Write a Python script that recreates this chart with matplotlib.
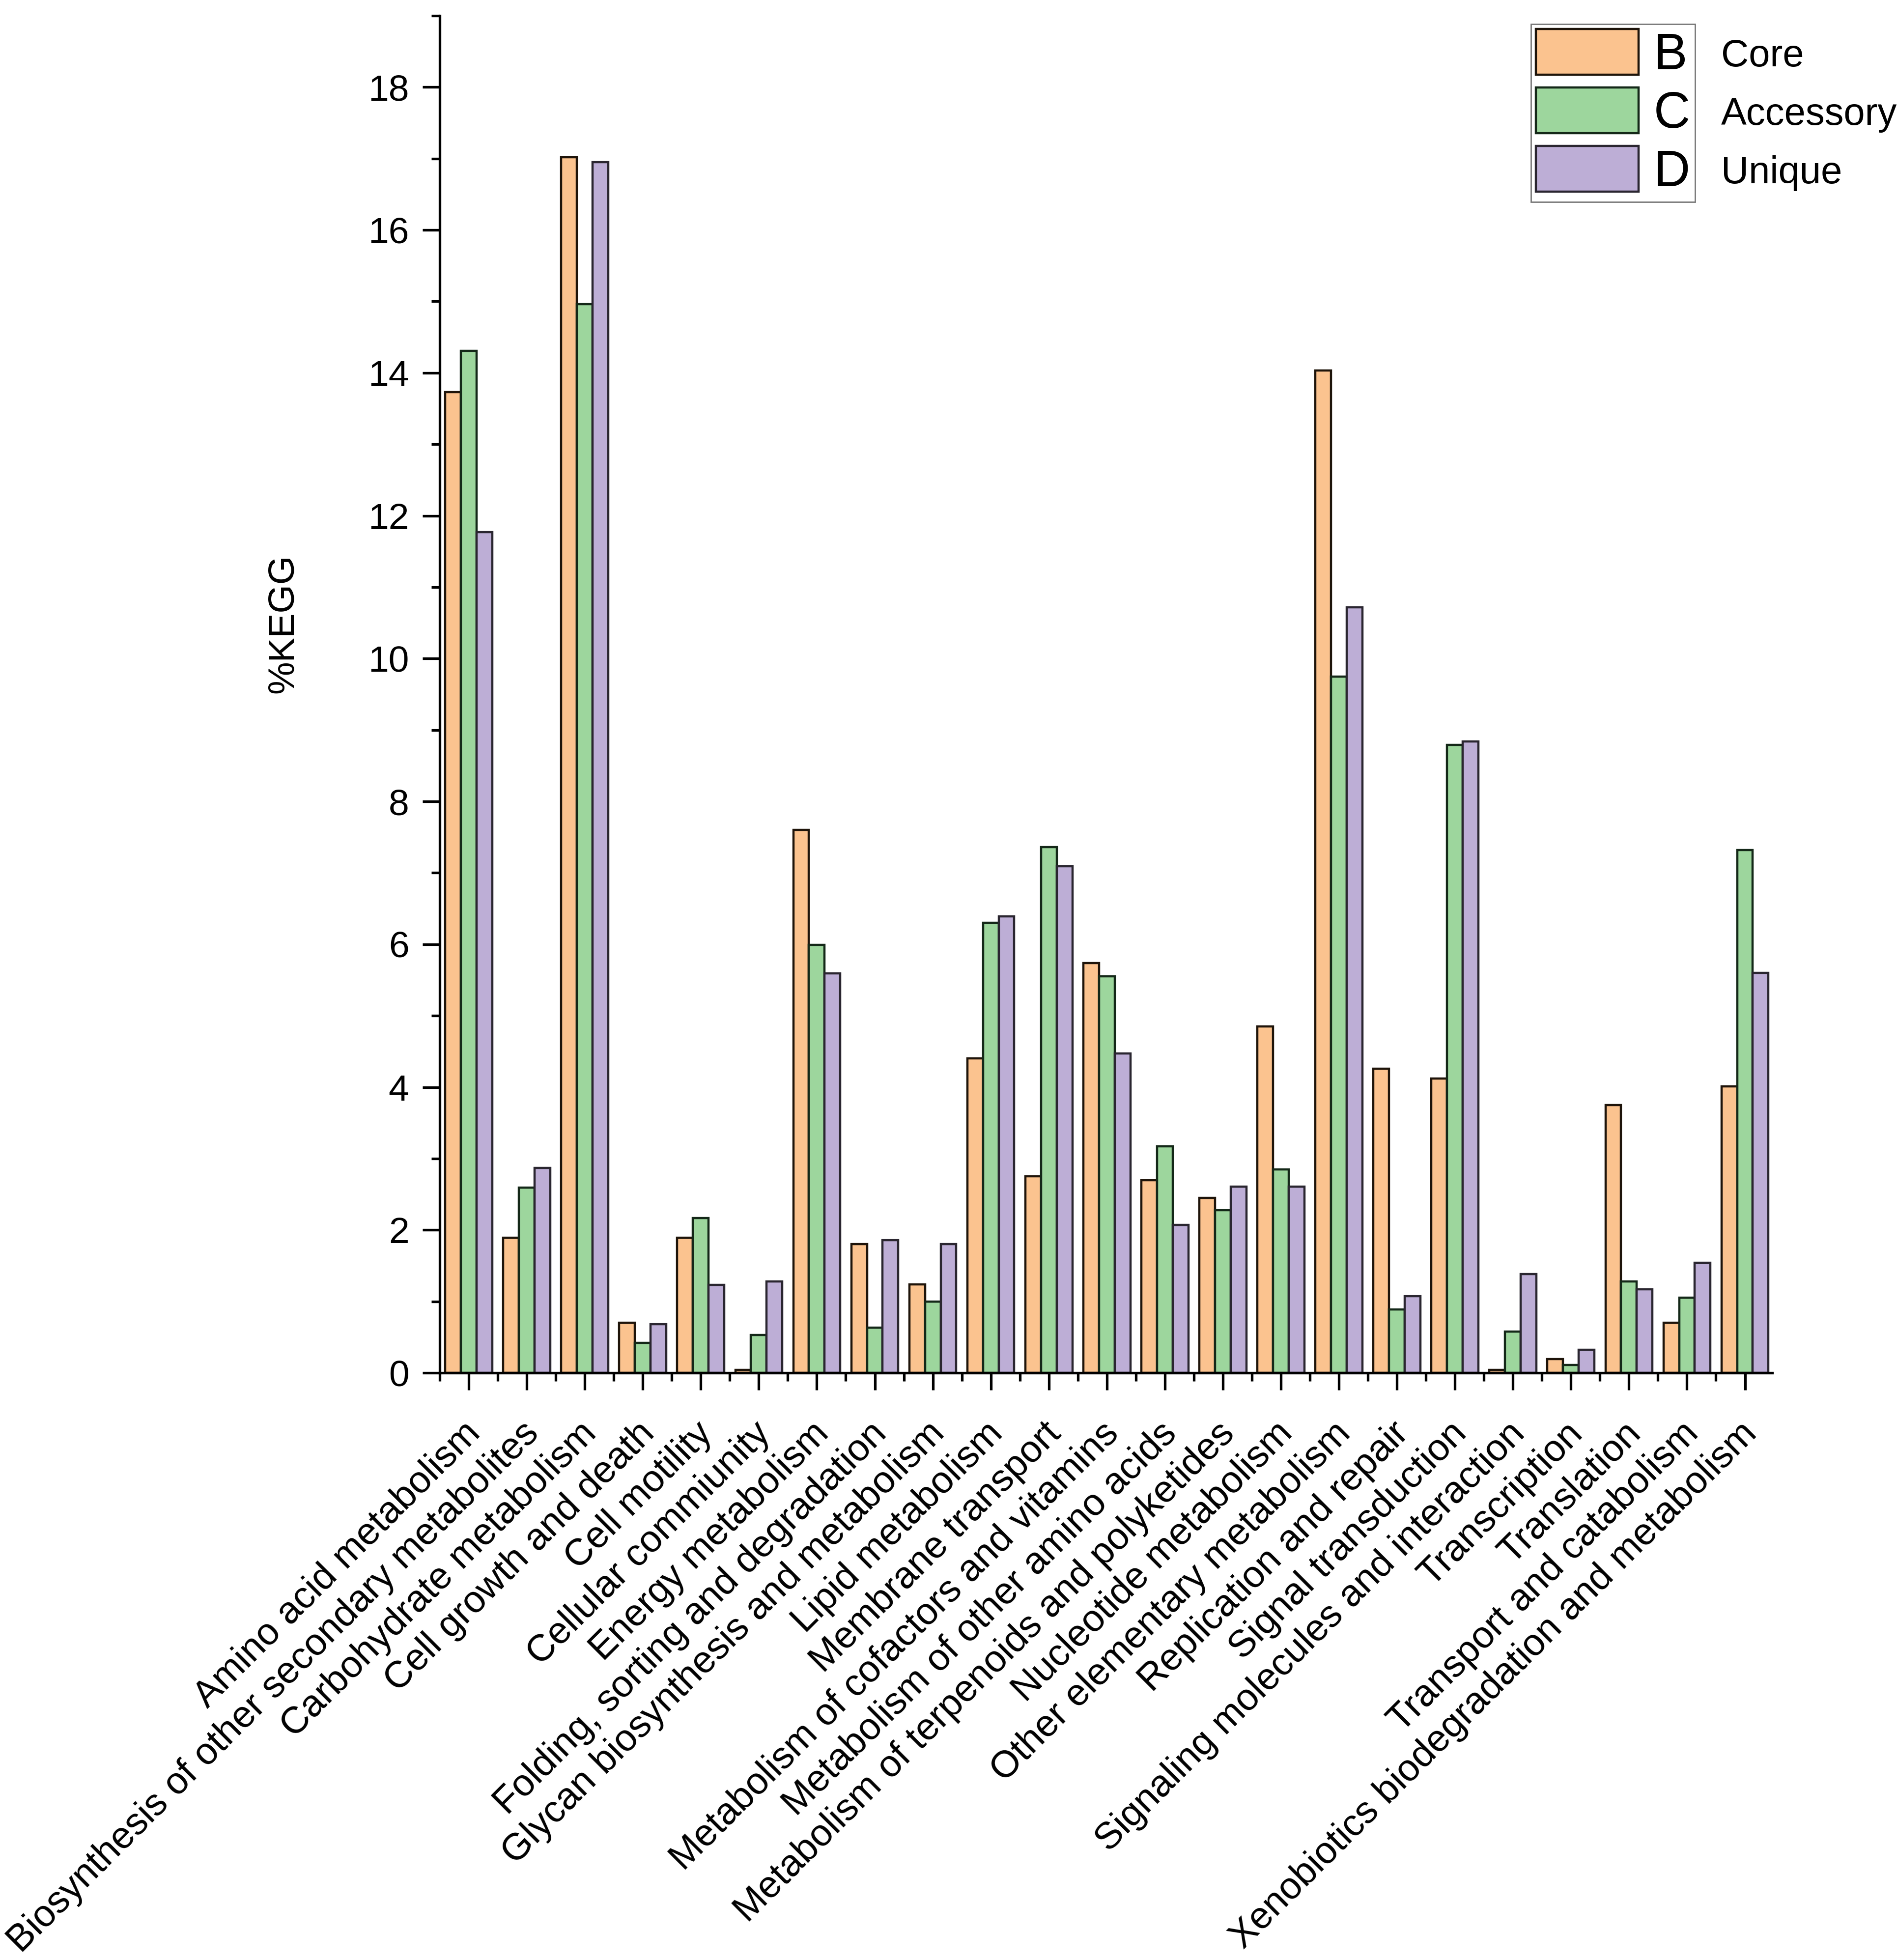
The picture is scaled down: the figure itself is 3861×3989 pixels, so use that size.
import numpy as np
import matplotlib
matplotlib.use("Agg")
import matplotlib.pyplot as plt
from matplotlib.patches import Patch
from matplotlib.ticker import FixedLocator
from matplotlib.transforms import ScaledTranslation

plt.rcParams['font.family'] = ['Liberation Sans', 'DejaVu Sans']

categories = [
    "Amino acid metabolism",
    "Biosynthesis of other secondary metabolites",
    "Carbohydrate metabolism",
    "Cell growth and death",
    "Cell motility",
    "Cellular commiunity",
    "Energy metabolism",
    "Folding, sorting and degradation",
    "Glycan biosynthesis and metabolism",
    "Lipid metabolism",
    "Membrane transport",
    "Metabolism of cofactors and vitamins",
    "Metabolism of other amino acids",
    "Metabolism of terpenoids and polyketides",
    "Nucleotide metabolism",
    "Other elementary metabolism",
    "Replication and repair",
    "Signal transduction",
    "Signaling molecules and interaction",
    "Transcription",
    "Translation",
    "Transport and catabolism",
    "Xenobiotics biodegradation and metabolism",
]

core = [13.73, 1.89, 17.02, 0.70, 1.89, 0.04, 7.60, 1.80, 1.24, 4.40, 2.75, 5.74,
        2.70, 2.45, 4.85, 14.03, 4.26, 4.12, 0.04, 0.19, 3.75, 0.70, 4.01]
accessory = [14.31, 2.59, 14.96, 0.42, 2.17, 0.53, 5.99, 0.63, 1.00, 6.30, 7.36, 5.55,
             3.17, 2.28, 2.85, 9.75, 0.89, 8.79, 0.58, 0.11, 1.28, 1.05, 7.32]
unique = [11.77, 2.87, 16.95, 0.68, 1.23, 1.28, 5.59, 1.86, 1.80, 6.39, 7.09, 4.47,
          2.07, 2.61, 2.61, 10.72, 1.07, 8.84, 1.38, 0.32, 1.17, 1.54, 5.60]

series_letters = ["B", "C", "D"]
series_names = ["Core", "Accessory", "Unique"]
y_label = "%KEGG"

fills = ["#FBC38F", "#9DD69D", "#BDAED6"]
edges = ["#1e140a", "#142818", "#2a2630"]

W, H, DPI = 3862, 3989, 100
fig = plt.figure(figsize=(W / DPI, H / DPI), dpi=DPI)
ax = fig.add_axes([895 / W, 1 - 2794 / H, (3607 - 895) / W, (2794 - 32) / H])

x = np.arange(len(categories))
bw = 0.27
for i, vals in enumerate([core, accessory, unique]):
    ax.bar(x + (i - 1) * bw, vals, width=bw, color=fills[i], edgecolor=edges[i],
           linewidth=3.2, zorder=2)

ax.set_xlim(-0.5, 22.47)
ax.set_ylim(0, 19)
ax.spines['top'].set_visible(False)
ax.spines['right'].set_visible(False)
for s in ['left', 'bottom']:
    ax.spines[s].set_linewidth(3.8)

ax.yaxis.set_major_locator(FixedLocator(np.arange(0, 19, 2)))
ax.yaxis.set_minor_locator(FixedLocator(np.arange(1, 20, 2)))
ax.xaxis.set_major_locator(FixedLocator(x))
ax.xaxis.set_minor_locator(FixedLocator(np.arange(-0.5, 22, 1)))
ax.tick_params(which='major', length=25, width=3.8, direction='out')
ax.tick_params(which='minor', length=12, width=3.8, direction='out')
ax.tick_params(axis='y', which='major', labelsize=54, pad=20)
ax.tick_params(axis='x', which='major', labelsize=55, pad=38)

ax.set_xticklabels(categories, rotation=45, ha='right', rotation_mode='anchor')
shift = ScaledTranslation(-12 / DPI, 0, fig.dpi_scale_trans)
for lab in ax.get_xticklabels():
    lab.set_transform(lab.get_transform() + shift)

ax.set_ylabel(y_label, fontsize=54)
ax.yaxis.set_label_coords(-0.1047, 0.552)

handles = [Patch(facecolor=fills[i], edgecolor=edges[i], linewidth=3.2) for i in range(3)]
leg = fig.legend(handles, series_letters, loc='upper left',
                 bbox_to_anchor=(3116 / W, 1 - 49 / H), borderaxespad=0,
                 fontsize=74, handlelength=2.03, handleheight=1.01,
                 labelspacing=0.15, handletextpad=0.3, borderpad=0.1,
                 fancybox=False, frameon=True)
leg.get_frame().set_edgecolor('#555555')
leg.get_frame().set_linewidth(2.0)

fig.canvas.draw()
inv = fig.transFigure.inverted()
for t, name in zip(leg.get_texts(), series_names):
    bb = t.get_window_extent()
    yc = inv.transform(((bb.x0 + bb.x1) / 2, (bb.y0 + bb.y1) / 2))[1]
    fig.text(3503 / W, yc, name, fontsize=56, va='center', ha='left')

fig.savefig("out.png", dpi=DPI)
